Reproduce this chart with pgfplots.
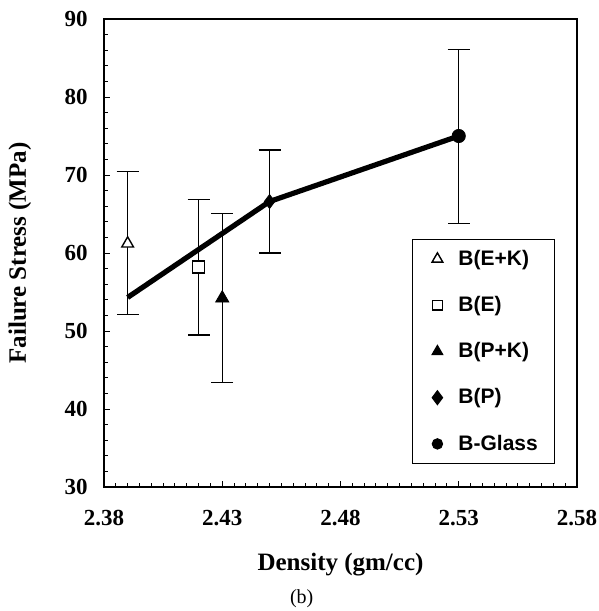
\documentclass[border=0pt]{standalone}
\usepackage{fontspec}
\setmainfont{Liberation Serif}
\setsansfont{Liberation Sans}
\usepackage{pgfplots}
\usepackage{pgfplotstable}
\pgfplotsset{compat=1.18}
\pgfplotsset{legmark/.style={legend image code/.code={%
  \path[draw=none,fill=none] (-4pt,-4pt) rectangle (4pt,4pt);
  \draw[##1, mark size=#1] plot coordinates {(0pt,0pt)};}}}

\pgfplotstableread{
x y ep em
2.39 61.2 9.2 9.1
}\dataEK
\pgfplotstableread{
x y ep em
2.42 58.2 8.7 8.7
}\dataE
\pgfplotstableread{
x y ep em
2.43 54.2 10.9 10.8
}\dataPK
\pgfplotstableread{
x y ep em
2.45 66.6 6.6 6.6
}\dataP
\pgfplotstableread{
x y ep em
2.53 75.0 11.1 11.2
}\dataGlass

\begin{document}
\begin{tikzpicture}
\begin{axis}[
  width=236.5pt, height=234pt, scale only axis,
  xmin=2.38, xmax=2.58, ymin=30, ymax=90,
  xtick={2.38,2.43,2.48,2.53,2.58}, ytick={30,40,50,60,70,80,90},
  minor x tick num=9, minor y tick num=4,
  tick align=inside, tick pos=left,
  major tick length=3pt, minor tick length=1.8pt,
  every tick/.append style={black, line width=0.5pt},
  axis line style={line width=0.8pt},
  clip=false,
  /pgf/number format/assume math mode=true,
  tick label style={font=\fontsize{11.5}{13}\selectfont\bfseries},
  xticklabel style={inner sep=0pt, yshift=-11.5pt, /pgf/number format/.cd, fixed, fixed zerofill, precision=2},
  yticklabel style={xshift=-4.7pt},
  xlabel={Density (gm/cc)},
  ylabel={Failure Stress (MPa)},
  every axis x label/.style={at={(axis description cs:0.5,-0.166)}, anchor=center,
    font=\fontsize{12.5}{14}\selectfont\bfseries},
  every axis y label/.style={at={(axis description cs:-0.178,0.5)}, rotate=90, anchor=center,
    font=\fontsize{12.5}{14}\selectfont\bfseries},
  legend style={at={(axis description cs:0.651,0.529)}, anchor=north west,
    draw=black, line width=0.5pt, inner xsep=8.5pt, inner ysep=5pt,
    row sep=14pt, column sep=6.5pt, nodes={inner sep=0pt},
    font=\sffamily\bfseries\fontsize{10.5}{12}\selectfont},
  legend cell align=left,
  error bars/y dir=both, error bars/y explicit,
  error bars/error mark=|,
  error bars/error bar style={line width=0.6pt, black},
  error bars/error mark options={mark size=5.5pt, line width=0.6pt, black},
]
\addplot[black, line width=2.6pt, forget plot] coordinates {(2.39,54.3) (2.45,66.6) (2.53,75.0)};

\addplot[black, only marks, mark=triangle*, mark size=3.4pt, mark options={fill=white, line width=0.7pt}, legmark=3.1pt]
  table[x=x, y=y, y error plus=ep, y error minus=em] {\dataEK};
\addplot[black, only marks, mark=square*, mark size=3pt, mark options={fill=white, line width=0.7pt}, legmark=2.4pt]
  table[x=x, y=y, y error plus=ep, y error minus=em] {\dataE};
\addplot[black, only marks, mark=triangle*, mark size=3.8pt, mark options={fill=black}, legmark=3.1pt]
  table[x=x, y=y, y error plus=ep, y error minus=em] {\dataPK};
\addplot[black, only marks, mark=diamond*, mark size=3.5pt, mark options={fill=black}, legmark=3.5pt]
  table[x=x, y=y, y error plus=ep, y error minus=em] {\dataP};
\addplot[black, only marks, mark=*, mark size=3.3pt, mark options={fill=black}, legmark=2.6pt]
  table[x=x, y=y, y error plus=ep, y error minus=em] {\dataGlass};
\legend{B(E+K), B(E), B(P+K), B(P), B-Glass\hspace{14pt}}

\node[font=\fontsize{10}{12}\selectfont, inner sep=0pt] at (axis description cs:0.418,-0.238) {(b)};
\end{axis}
\path ([shift={(-52pt,-62pt)}]current axis.south west) rectangle ([shift={(11pt,9.5pt)}]current axis.north east);
\end{tikzpicture}
\end{document}
